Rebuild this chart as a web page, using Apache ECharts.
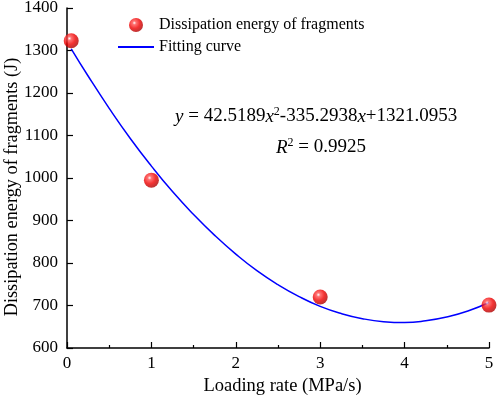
<!DOCTYPE html>
<html>
<head>
<meta charset="utf-8">
<script src="https://cdn.jsdelivr.net/npm/echarts@6/dist/echarts.min.js"></script>
<style>
  html, body { margin: 0; padding: 0; background: #fff; }
  #chart { width: 498px; height: 395px; }
</style>
</head>
<body>
<div id="chart"></div>
<script>
// measured points
var rateX = [0.05, 1, 3, 5];
var energyY = [1323, 995, 720, 701];
// fitting curve
var fitX = [0.05, 0.25, 0.5, 0.75, 1, 1.25, 1.5, 1.75, 2, 2.25, 2.5, 2.75, 3, 3.25, 3.5, 3.75, 4, 4.25, 4.5, 4.75, 5];
var fitY = [1304, 1240, 1164, 1093, 1028, 968, 914, 865, 821, 782, 749, 721, 698, 681, 669, 662, 660, 664, 673, 687, 707];
var xTicks = [0, 1, 2, 3, 4, 5];
var yTicks = [600, 700, 800, 900, 1000, 1100, 1200, 1300, 1400];

var font = '"Liberation Serif", "Times New Roman", serif';

function pairs(xs, ys) {
    return xs.map(function (x, i) { return [x, ys[i]]; });
}

var chart = echarts.init(document.getElementById('chart'));
var sphere = {
    type: 'radial', x: 0.38, y: 0.35, r: 0.65,
    colorStops: [
        {offset: 0, color: '#ffffff'},
        {offset: 0.2, color: '#ff5050'},
        {offset: 0.6, color: '#f00000'},
        {offset: 1, color: '#b00000'}
    ]
};
var rich = {
    i: { fontFamily: font, fontSize: 19, fontStyle: 'italic' },
    s: { fontFamily: font, fontSize: 12, verticalAlign: 'top', padding: [0, 0, 9, 0] }
};

var option = {
    animation: false,
    backgroundColor: '#fff',
    grid: { left: 67, right: 9, top: 8, bottom: 47, containLabel: false, outerBoundsMode: 'none' },
    legend: {
        orient: 'vertical',
        left: 117, top: 17, padding: 0,
        itemWidth: 36, itemHeight: 14, itemGap: 6,
        textStyle: { fontFamily: font, fontSize: 16, color: '#000' },
        data: [
            {name: 'Dissipation energy of fragments', icon: 'circle', itemStyle: {color: sphere}},
            {name: 'Fitting curve', itemStyle: {opacity: 0}}
        ]
    },
    xAxis: {
        type: 'value', min: 0, max: 5, interval: 1,
        name: 'Loading rate (MPa/s)', nameLocation: 'middle', nameGap: 29,
        nameTextStyle: { fontFamily: font, fontSize: 18.5, color: '#000', padding: [0, 0, 0, 9] },
        axisLine: { onZero: false, lineStyle: { color: '#000', width: 1.5 } },
        axisTick: { inside: true, length: 6, lineStyle: { color: '#000', width: 1.2 } },
        minorTick: { show: true, splitNumber: 2, length: 3, lineStyle: { color: '#000', width: 1.2 } },
        axisLabel: {
            fontFamily: font, fontSize: 17, color: '#000', margin: 7,
            formatter: function (v) { return xTicks.indexOf(v) >= 0 ? v : ''; }
        },
        splitLine: { show: false }
    },
    yAxis: {
        type: 'value', min: 600, max: 1400, interval: 100,
        axisLine: { onZero: false, lineStyle: { color: '#000', width: 1.5 } },
        axisTick: { inside: true, length: 6, lineStyle: { color: '#000', width: 1.2 } },
        axisLabel: {
            fontFamily: font, fontSize: 17, color: '#000', margin: 9,
            formatter: function (v) { return yTicks.indexOf(v) >= 0 ? v : ''; }
        },
        splitLine: { show: false }
    },
    graphic: [
        {
            // y axis title
            type: 'text', x: 12, y: 187, rotation: Math.PI / 2,
            style: {
                text: 'Dissipation energy of fragments (J)',
                font: '18.3px ' + font, fill: '#000',
                align: 'center', verticalAlign: 'middle'
            }
        },
        {
            type: 'text', left: 175, top: 106,
            style: {
                text: '{i|y} = 42.5189{i|x}{s|2}-335.2938{i|x}+1321.0953',
                font: '19px ' + font, fill: '#000', rich: rich
            }
        },
        {
            type: 'text', left: 276, top: 137,
            style: {
                text: '{i|R}{s|2} = 0.9925',
                font: '19px ' + font, fill: '#000', rich: rich
            }
        }
    ],
    series: [
        {
            name: 'Fitting curve', type: 'line', smooth: true,
            showSymbol: false, symbol: 'none',
            lineStyle: { color: '#0000ff', width: 1.5 },
            itemStyle: { color: '#0000ff' },
            data: pairs(fitX, fitY), z: 2
        },
        {
            name: 'Dissipation energy of fragments', type: 'scatter',
            symbolSize: 15,
            itemStyle: { color: sphere },
            data: pairs(rateX, energyY), z: 3
        }
    ]
};
chart.setOption(option);
</script>
</body>
</html>
